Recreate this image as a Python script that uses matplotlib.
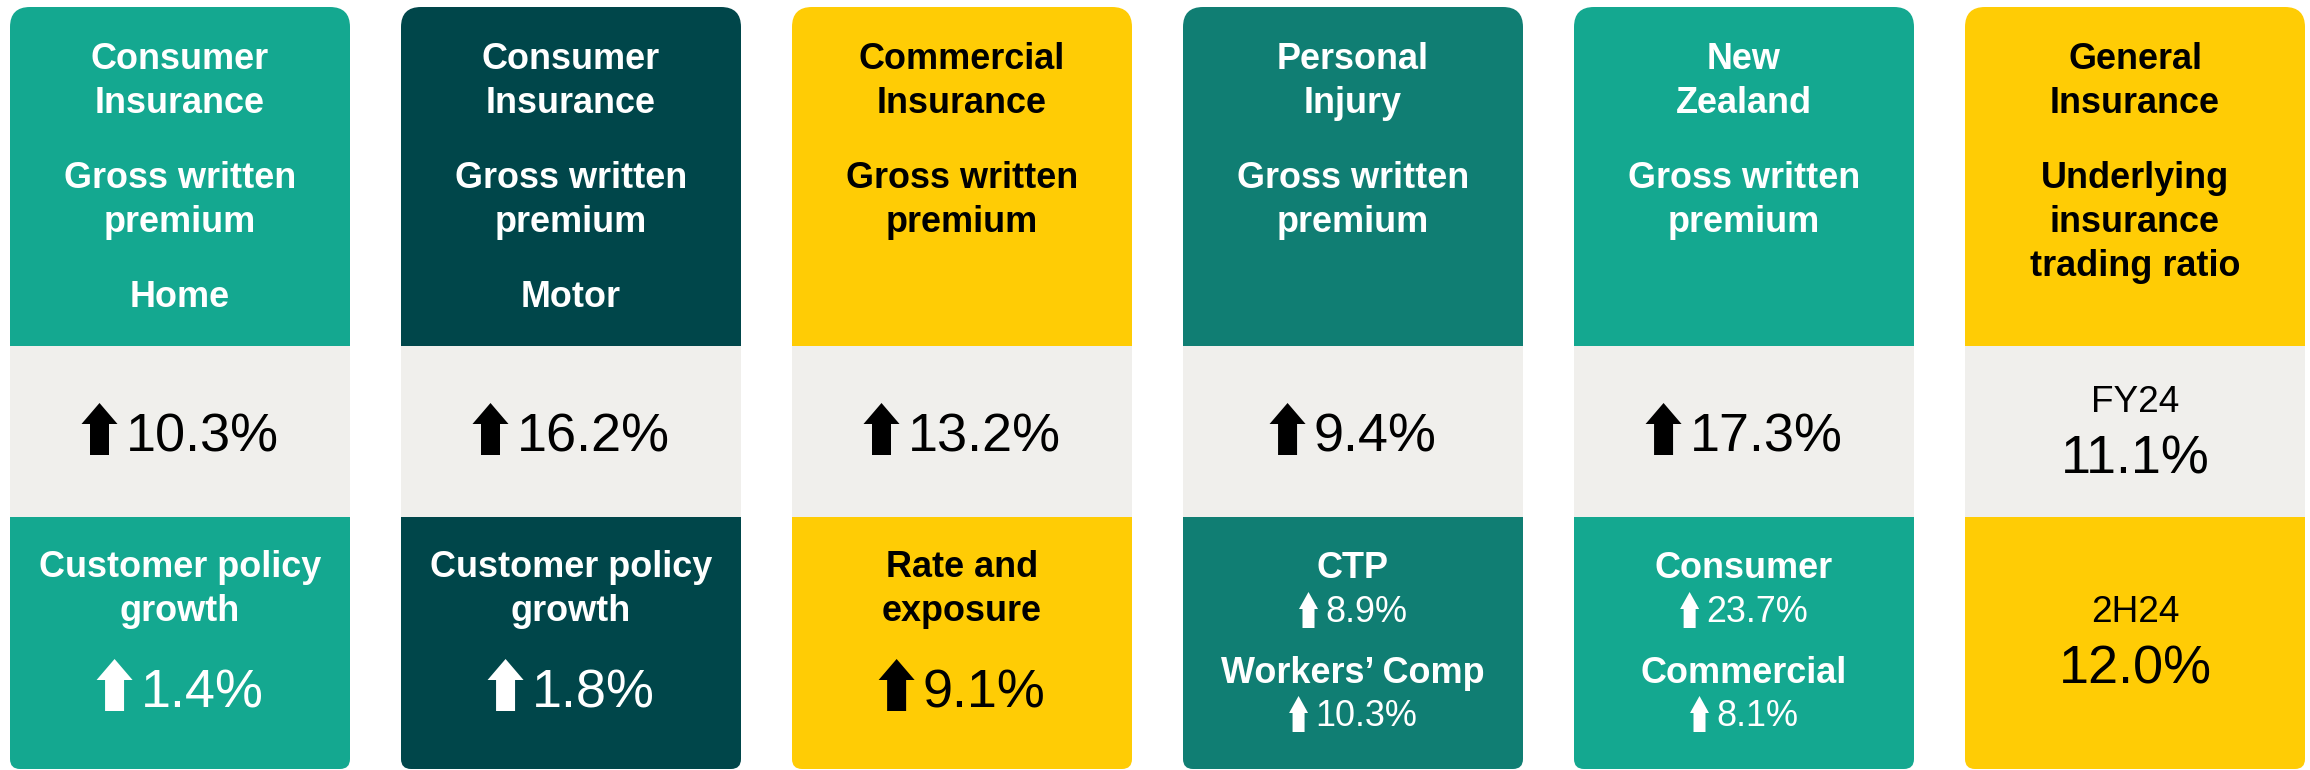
# ==========================================
# FY24 GROWTH SCORECARD - KPI TILES
# ==========================================

import matplotlib
matplotlib.use("Agg")
import matplotlib.pyplot as plt
from matplotlib.patches import FancyBboxPatch, Rectangle, Polygon


# ==========================================
# DATA
# ==========================================

segments = ["Consumer\nInsurance", "Consumer\nInsurance", "Commercial\nInsurance",
            "Personal\nInjury", "New\nZealand", "General\nInsurance"]
metrics = ["Gross written\npremium", "Gross written\npremium", "Gross written\npremium",
           "Gross written\npremium", "Gross written\npremium",
           "Underlying\ninsurance\ntrading ratio"]
sub_lines = ["Home", "Motor", "", "", "", ""]

gwp_growth = ["10.3%", "16.2%", "13.2%", "9.4%", "17.3%"]

detail_labels = ["Customer policy\ngrowth", "Customer policy\ngrowth", "Rate and\nexposure"]
detail_values = ["1.4%", "1.8%", "9.1%"]

pi_labels = ["CTP", "Workers’ Comp"]
pi_values = ["8.9%", "10.3%"]

nz_labels = ["Consumer", "Commercial"]
nz_values = ["23.7%", "8.1%"]

ratio_periods = ["FY24", "2H24"]
ratio_values = ["11.1%", "12.0%"]


# ==========================================
# STYLE
# ==========================================

TEAL = "#14A890"
DARK = "#00464A"
MID = "#107E73"
YELLOW = "#FFCC05"
BAND = "#F0EFEC"

card_colors = [TEAL, DARK, YELLOW, MID, TEAL, YELLOW]
text_colors = ["white", "white", "black", "white", "white", "black"]

FONT = "Liberation Sans"
W, H = 2310, 770

CARD_X0, CARD_W, CARD_STEP = 10, 340, 391
TOP, HEAD_BOT, BAND_BOT, BOTTOM = 7, 346, 517, 769


def pt(px):
    # pixel height -> points at dpi 100
    return px * 0.72


fig = plt.figure(figsize=(W / 100, H / 100), dpi=100)
ax = fig.add_axes([0, 0, 1, 1])
ax.set_xlim(0, W)
ax.set_ylim(H, 0)
ax.axis("off")
renderer = fig.canvas.get_renderer()


def label(x, y, s, color, size, bold=True):
    ax.text(x, y, s, ha="center", va="baseline", color=color,
            fontsize=pt(size), fontfamily=FONT,
            fontweight="bold" if bold else "normal", zorder=5)


def lines(x, y0, s, color, size, step=44):
    y = y0
    for ln in s.split("\n"):
        label(x, y, ln, color, size)
        y += step
    return y


def up_arrow(left, top, width, height, color, head, shaft):
    cx = left + width / 2
    pts = [(cx, top), (left + width, top + head), (cx + shaft / 2, top + head),
           (cx + shaft / 2, top + height), (cx - shaft / 2, top + height),
           (cx - shaft / 2, top + head), (left, top + head)]
    ax.add_patch(Polygon(pts, closed=True, facecolor=color, edgecolor="none", zorder=5))


def value_with_arrow(cx, base, s, color, big=True):
    size = 54 if big else 36
    t = ax.text(0, base, s, ha="left", va="baseline", color=color,
                fontsize=pt(size), fontfamily=FONT, zorder=5)
    w = t.get_window_extent(renderer).width
    if big:
        aw, ah, head, shaft, gap, off = 36, 52, 21, 19, 8, 3
    else:
        aw, ah, head, shaft, gap, off = 19, 36, 17, 12, 7, 6
    total = aw + gap + w
    left = cx - total / 2
    up_arrow(left, base + off - ah, aw, ah, color, head, shaft)
    t.set_x(left + aw + gap)


# ==========================================
# CARDS
# ==========================================

for i in range(6):
    x = CARD_X0 + i * CARD_STEP
    cx = x + CARD_W / 2
    fc = card_colors[i]
    tc = text_colors[i]

    ax.add_patch(FancyBboxPatch((x, TOP), CARD_W, 300,
                                boxstyle="round,pad=0,rounding_size=20",
                                facecolor=fc, edgecolor="none", zorder=1))
    ax.add_patch(FancyBboxPatch((x, 450), CARD_W, BOTTOM - 450,
                                boxstyle="round,pad=0,rounding_size=10",
                                facecolor=fc, edgecolor="none", zorder=1))
    ax.add_patch(Rectangle((x, 250), CARD_W, 250, facecolor=fc,
                           edgecolor="none", zorder=1))
    ax.add_patch(Rectangle((x, HEAD_BOT), CARD_W, BAND_BOT - HEAD_BOT,
                           facecolor=BAND, edgecolor="none", zorder=2))

    # header
    y = lines(cx, 69, segments[i], tc, 36)
    y = lines(cx, y + 31, metrics[i], tc, 36)
    if sub_lines[i]:
        lines(cx, y + 31, sub_lines[i], tc, 36)

    # middle band + bottom
    if i < 3:
        value_with_arrow(cx, 452, gwp_growth[i], "black")
        lines(cx, 577, detail_labels[i], tc, 36)
        value_with_arrow(cx, 708, detail_values[i], tc)
    elif i < 5:
        value_with_arrow(cx, 452, gwp_growth[i], "black")
        labs, vals = (pi_labels, pi_values) if i == 3 else (nz_labels, nz_values)
        label(cx, 578, labs[0], tc, 36)
        value_with_arrow(cx, 622, vals[0], tc, big=False)
        label(cx, 683, labs[1], tc, 36)
        value_with_arrow(cx, 726, vals[1], tc, big=False)
    else:
        label(cx, 412, ratio_periods[0], "black", 37, bold=False)
        label(cx, 473, ratio_values[0], "black", 54, bold=False)
        label(cx, 622, ratio_periods[1], tc, 37, bold=False)
        label(cx, 683, ratio_values[1], tc, 54, bold=False)

fig.savefig("out.png", dpi=100, facecolor="white")
